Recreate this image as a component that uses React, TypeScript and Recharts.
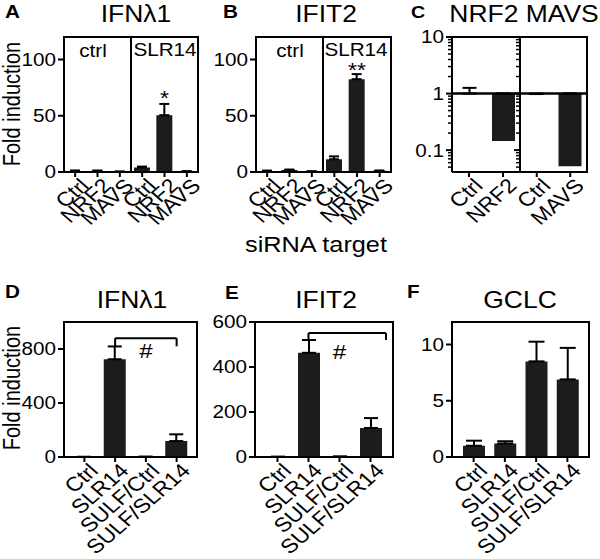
import React from 'react';
import { BarChart, Bar, XAxis, YAxis, ErrorBar, ReferenceLine, ReferenceDot } from 'recharts';

const FONT = '"Liberation Sans", Arial, Helvetica, sans-serif';
const SX = 1.15;
const INK = '#000';
const BAR = '#1c1c1c';
const W = 600;
const H = 559;
const YW = 40;
const XH = 60;

// ---- Panel A / B : siRNA knockdown, ctrl vs SLR14 ----
const sirnaTargets = ['Ctrl', 'NRF2', 'MAVS'];
const ifnl1CtrlMeans = [1.0, 1.0, 0.3];
const ifnl1CtrlErr = [0.3, 0.3, 0.1];
const ifnl1SlrMeans = [4.0, 50.5, 0.5];
const ifnl1SlrErr = [0.8, 10.0, 0.2];
const ifit2CtrlMeans = [1.0, 1.8, 0.5];
const ifit2CtrlErr = [0.2, 0.4, 0.1];
const ifit2SlrMeans = [11.3, 82.5, 1.0];
const ifit2SlrErr = [2.6, 4.5, 0.3];
const foldTicksAB = [0, 50, 100];

// ---- Panel C : knockdown efficiency (log) ----
const nrf2Targets = ['Ctrl', 'NRF2'];
const nrf2Levels = [0.99, 0.145];
const nrf2ErrUp = [0.26, 0];
const nrf2ErrDown = [0, 0];
const mavsTargets = ['Ctrl', 'MAVS'];
const mavsLevels = [0.98, 0.052];
const mavsErrUp = [0, 0];
const mavsErrDown = [0.02, 0];
const logMajor = [0.1, 1, 10];
const logMinor = [0.05, 0.06, 0.07, 0.08, 0.09, 0.2, 0.3, 0.4, 0.5, 0.6, 0.7, 0.8, 0.9, 2, 3, 4, 5, 6, 7, 8, 9];

// ---- Panels D-F : sulforaphane treatment ----
const treatments = ['Ctrl', 'SLR14', 'SULF/Ctrl', 'SULF/SLR14'];
const ifnl1TreatMeans = [1, 724, 2, 118];
const ifnl1TreatErr = [0, 95, 0, 50];
const ifit2TreatMeans = [1, 463, 2, 129];
const ifit2TreatErr = [0, 57, 0, 44];
const gclcMeans = [1.0, 1.2, 8.5, 6.9];
const gclcErr = [0.45, 0.2, 1.75, 2.8];
const ticksD = [0, 400, 800];
const ticksE = [0, 200, 400, 600];
const ticksF = [0, 5, 10];

type Rect = { x: number; y: number; w: number; h: number };
// plot-area layout (pixels)
const rA1: Rect = { x: 64, y: 37, w: 67, h: 135 };
const rA2: Rect = { x: 131, y: 37, w: 67, h: 135 };
const rB1: Rect = { x: 256, y: 37, w: 67, h: 135 };
const rB2: Rect = { x: 323, y: 37, w: 68, h: 135 };
const rC1: Rect = { x: 452, y: 37, w: 68, h: 135 };
const rC2: Rect = { x: 520, y: 37, w: 67, h: 135 };
const rD: Rect = { x: 64, y: 322, w: 133, h: 135 };
const rE: Rect = { x: 255, y: 322, w: 138, h: 135 };
const rF: Rect = { x: 452, y: 322, w: 137, h: 135 };
const boxes: Rect[][] = [[rA1, rA2], [rB1, rB2], [rC1, rC2], [rD], [rE], [rF]];

const rows = (names: string[], means: number[], errs: number[]) =>
  names.map((name, i) => ({ name, value: means[i], err: [0, errs[i]] }));

const logRows = (names: string[], levels: number[], up: number[], down: number[]) =>
  names.map((name, i) => ({
    name,
    value: [Math.min(levels[i], 1), Math.max(levels[i], 1)],
    err: [down[i], up[i]],
  }));

const XTick = (p: any) => (
  <text
    transform={`translate(${p.x + 15},${p.y + 10}) scale(${SX},1) rotate(-45)`}
    textAnchor="end"
    fontSize={20}
    fontFamily={FONT}
    fill={INK}
  >
    {p.payload.value}
  </text>
);

const YTick = (p: any) => (
  <text
    transform={`translate(${p.x},${p.y}) scale(${SX},1)`}
    textAnchor="end"
    dy="0.36em"
    fontSize={18}
    fontFamily={FONT}
    fill={INK}
  >
    {p.payload.value}
  </text>
);

const LogLabel = (p: any) =>
  p.show ? (
    <text
      transform={`translate(${p.x},${p.y}) scale(${SX},1)`}
      textAnchor="end"
      dy="0.36em"
      fontSize={18}
      fontFamily={FONT}
      fill={INK}
    >
      {String(p.payload.value)}
    </text>
  ) : (
    <g />
  );

function Plot(props: {
  rect: Rect;
  data: any[];
  domain: [number, number];
  ticks?: number[];
  log?: boolean;
  yLabels: boolean;
  yTicks: boolean;
  rightFrame: boolean;
  barSize: number;
  capHalf: number;
  pad?: { left: number; right: number };
  children?: React.ReactNode;
}) {
  const r = props.rect;
  const margin = { top: r.y, left: r.x - YW, right: W - r.x - r.w, bottom: H - r.y - r.h - XH };
  const axisStyle = { stroke: INK, strokeWidth: 2 };
  const n = props.data.length;
  const padL = props.pad ? props.pad.left : 0;
  const padR = props.pad ? props.pad.right : 0;
  const band = (r.w - padL - padR) / n;
  const frameShape = (p: any) => {
    const right = p.cx + band / 2 + padR;
    const left = right - r.w;
    return (
      <path
        d={`M${left},${p.cy}H${right}${props.rightFrame ? `V${p.cy + r.h}` : ''}`}
        stroke={INK}
        strokeWidth={2}
        fill="none"
      />
    );
  };
  const stubShape = (p: any) => {
    const axisX = p.cx - band / 2 - padL;
    return <path d={`M${axisX - 4},${p.cy}H${axisX}`} stroke={INK} strokeWidth={1.5} fill="none" />;
  };
  return (
    <div style={{ position: 'absolute', left: 0, top: 0 }}>
      <BarChart width={W} height={H} data={props.data} margin={margin}>
        <XAxis
          dataKey="name"
          type="category"
          height={XH}
          padding={props.pad || { left: 0, right: 0 }}
          tickSize={5}
          tickMargin={0}
          interval={0}
          tick={<XTick />}
          axisLine={axisStyle}
          tickLine={axisStyle}
        />
        {props.log ? (
          <YAxis
            type="number"
            scale="log"
            domain={props.domain}
            allowDataOverflow
            ticks={logMajor}
            interval={0}
            width={YW}
            tickSize={6}
            tickMargin={2}
            tickLine={axisStyle}
            axisLine={axisStyle}
            tick={<LogLabel show={props.yLabels} />}
          />
        ) : (
          <YAxis
            type="number"
            domain={props.domain}
            allowDataOverflow
            ticks={props.ticks}
            interval={0}
            width={YW}
            tickSize={6}
            tickMargin={2}
            axisLine={axisStyle}
            tickLine={props.yTicks ? axisStyle : false}
            tick={props.yLabels ? <YTick /> : false}
          />
        )}
        <Bar dataKey="value" fill={BAR} barSize={props.barSize} isAnimationActive={false}>
          <ErrorBar dataKey="err" direction="y" width={props.capHalf} stroke={INK} strokeWidth={2} />
        </Bar>
        <ReferenceDot x={props.data[n - 1].name} y={props.domain[1]} r={0} shape={frameShape} />
        {props.log
          ? logMinor.map((v) => (
              <ReferenceDot key={v} x={props.data[0].name} y={v} r={0} shape={stubShape} />
            ))
          : null}
        {props.children}
      </BarChart>
    </div>
  );
}

const Mark = (txt: string, size: number, lift: number) => (p: any) => (
  <text
    transform={`translate(${p.cx},${p.cy + lift}) scale(${SX},1)`}
    textAnchor="middle"
    fontSize={size}
    fontFamily={FONT}
    fill={INK}
  >
    {txt}
  </text>
);

const Txt = (p: {
  x: number;
  y: number;
  size: number;
  anchor?: string;
  bold?: boolean;
  rot?: number;
  children: React.ReactNode;
}) => (
  <text
    transform={`translate(${p.x},${p.y}) scale(${SX},1)${p.rot ? ` rotate(${p.rot})` : ''}`}
    textAnchor={(p.anchor as any) || 'middle'}
    fontSize={p.size}
    fontWeight={p.bold ? 'bold' : 'normal'}
    fontFamily={FONT}
    fill={INK}
  >
    {p.children}
  </text>
);

const seg = { stroke: INK, strokeWidth: 2 };

export default function App() {
  return (
    <div style={{ position: 'absolute', left: 0, top: 0, width: W, height: H, background: '#fff' }}>
      {/* Panel A */}
      <Plot rect={rA1} data={rows(sirnaTargets, ifnl1CtrlMeans, ifnl1CtrlErr)} rightFrame={false}
        domain={[0, 120]} ticks={foldTicksAB} yLabels yTicks barSize={16} capHalf={5} />
      <Plot rect={rA2} data={rows(sirnaTargets, ifnl1SlrMeans, ifnl1SlrErr)} rightFrame
        domain={[0, 120]} ticks={foldTicksAB} yLabels={false} yTicks={false} barSize={16} capHalf={5}>
        <ReferenceDot x="NRF2" y={69} r={0} shape={Mark('*', 20, 11)} />
      </Plot>
      {/* Panel B */}
      <Plot rect={rB1} data={rows(sirnaTargets, ifit2CtrlMeans, ifit2CtrlErr)} rightFrame={false}
        domain={[0, 120]} ticks={foldTicksAB} yLabels yTicks barSize={16} capHalf={5} />
      <Plot rect={rB2} data={rows(sirnaTargets, ifit2SlrMeans, ifit2SlrErr)} rightFrame
        domain={[0, 120]} ticks={foldTicksAB} yLabels={false} yTicks={false} barSize={16} capHalf={5}>
        <ReferenceDot x="NRF2" y={95} r={0} shape={Mark('**', 20, 12)} />
      </Plot>
      {/* Panel C */}
      <Plot rect={rC1} data={logRows(nrf2Targets, nrf2Levels, nrf2ErrUp, nrf2ErrDown)} rightFrame={false}
        domain={[0.041, 10]} log yLabels yTicks barSize={23} capHalf={7}>
        <ReferenceLine y={1} stroke={INK} strokeWidth={2.5} />
      </Plot>
      <Plot rect={rC2} data={logRows(mavsTargets, mavsLevels, mavsErrUp, mavsErrDown)} rightFrame
        domain={[0.041, 10]} log yLabels={false} yTicks barSize={23} capHalf={7}>
        <ReferenceLine y={1} stroke={INK} strokeWidth={2.5} />
      </Plot>
      {/* Panel D */}
      <Plot rect={rD} data={rows(treatments, ifnl1TreatMeans, ifnl1TreatErr)} rightFrame
        domain={[0, 1000]} ticks={ticksD} yLabels yTicks barSize={22} capHalf={7} pad={{ left: 5, right: 5 }}>
        <ReferenceLine segment={[{ x: 'SLR14', y: 880 }, { x: 'SULF/SLR14', y: 880 }]} {...seg} />
        <ReferenceLine segment={[{ x: 'SLR14', y: 880 }, { x: 'SLR14', y: 819 }]} {...seg} />
        <ReferenceLine segment={[{ x: 'SULF/SLR14', y: 880 }, { x: 'SULF/SLR14', y: 820 }]} {...seg} />
        <ReferenceDot x="SULF/Ctrl" y={785} r={0} shape={Mark('#', 21, 7)} />
      </Plot>
      {/* Panel E */}
      <Plot rect={rE} data={rows(treatments, ifit2TreatMeans, ifit2TreatErr)} rightFrame
        domain={[0, 600]} ticks={ticksE} yLabels yTicks barSize={22} capHalf={7} pad={{ left: 7, right: 7 }}>
        <ReferenceLine segment={[{ x: 'SLR14', y: 551 }, { x: 'SULF/SLR14', y: 551 }]} {...seg} />
        <ReferenceLine segment={[{ x: 'SLR14', y: 551 }, { x: 'SULF/SLR14', y: 551 }]} position="end" {...seg} />
        <ReferenceLine segment={[{ x: 'SLR14', y: 551 }, { x: 'SLR14', y: 520 }]} {...seg} />
        <ReferenceLine segment={[{ x: 'SULF/SLR14', y: 551 }, { x: 'SULF/SLR14', y: 520 }]} position="end" {...seg} />
        <ReferenceDot x="SULF/Ctrl" y={467} r={0} shape={Mark('#', 21, 7)} />
      </Plot>
      {/* Panel F */}
      <Plot rect={rF} data={rows(treatments, gclcMeans, gclcErr)} rightFrame
        domain={[0, 12]} ticks={ticksF} yLabels yTicks barSize={22} capHalf={8} pad={{ left: 6, right: 6 }} />

      {boxes.map((group, i) => {
        const first = group[0];
        const last = group[group.length - 1];
        const right = last.x + last.w;
        const bottom = last.y + last.h;
        return (
          <div
            key={`box${i}`}
            style={{
              position: 'absolute',
              left: first.x - 1,
              top: first.y - 1,
              width: right - first.x + 2,
              height: bottom - first.y + 2,
              borderTop: `2px solid ${INK}`,
              borderRight: `2px solid ${INK}`,
              boxSizing: 'border-box',
              pointerEvents: 'none',
            }}
          />
        );
      })}

      <svg width={W} height={H} style={{ position: 'absolute', left: 0, top: 0, pointerEvents: 'none' }}>
        <Txt x={5} y={18} size={18} anchor="start" bold>A</Txt>
        <Txt x={223} y={18} size={18} anchor="start" bold>B</Txt>
        <Txt x={411} y={18} size={17} anchor="start" bold>C</Txt>
        <Txt x={5} y={298} size={18} anchor="start" bold>D</Txt>
        <Txt x={225} y={299} size={18} anchor="start" bold>E</Txt>
        <Txt x={407} y={298} size={18} anchor="start" bold>F</Txt>

        <Txt x={136} y={22} size={23}>IFNλ1</Txt>
        <Txt x={326} y={22} size={23}>IFIT2</Txt>
        <Txt x={524} y={22} size={23}>NRF2 MAVS</Txt>
        <Txt x={132} y={308} size={23}>IFNλ1</Txt>
        <Txt x={326} y={308} size={23}>IFIT2</Txt>
        <Txt x={520} y={308} size={23}>GCLC</Txt>

        <Txt x={20} y={104} size={20} rot={-90}>Fold induction</Txt>
        <Txt x={20} y={388} size={20} rot={-90}>Fold induction</Txt>
        <Txt x={316} y={252} size={22}>siRNA target</Txt>

        <Txt x={93} y={57} size={18}>ctrl</Txt>
        <Txt x={165} y={56} size={18}>SLR14</Txt>
        <Txt x={290} y={57} size={18}>ctrl</Txt>
        <Txt x={356} y={56} size={18}>SLR14</Txt>
      </svg>
    </div>
  );
}
